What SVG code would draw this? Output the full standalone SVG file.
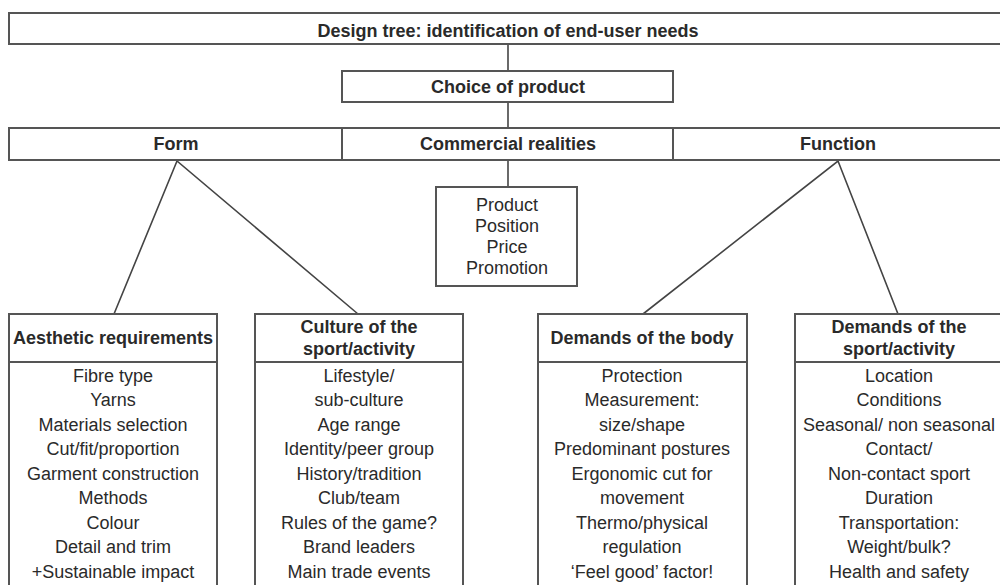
<svg xmlns="http://www.w3.org/2000/svg" width="1000" height="585" viewBox="0 0 1000 585">
<style>
.box{fill:#fff;stroke:#555;stroke-width:2}
.ln{stroke:#444;stroke-width:1.6;fill:none}
text{font-family:"Liberation Sans",Arial,sans-serif;font-size:18px;fill:#2a2a2a;text-anchor:middle;dominant-baseline:central}
.b{font-weight:bold}
</style>
<rect width="1000" height="585" fill="#fff"/>
<g id="connectors">
<line class="ln" x1="508" y1="44" x2="508" y2="71"/>
<line class="ln" x1="508" y1="102" x2="508" y2="128"/>
<line class="ln" x1="508" y1="160" x2="508" y2="187"/>
<polyline class="ln" points="114,314 177,161 358,314"/>
<polyline class="ln" points="643,314 838,161 898,314"/>
</g>
<g id="design-tree">
<rect class="box" x="9" y="13" width="1000" height="31"/>
<text class="b" x="508" y="31">Design tree: identification of end-user needs</text>
</g>
<g id="choice">
<rect class="box" x="342" y="71" width="331" height="31"/>
<text class="b" x="508" y="87">Choice of product</text>
</g>
<g id="form">
<rect class="box" x="9" y="128" width="333" height="32"/>
<text class="b" x="176" y="144">Form</text>
</g>
<g id="commercial">
<rect class="box" x="342" y="128" width="331" height="32"/>
<text class="b" x="508" y="144">Commercial realities</text>
</g>
<g id="function">
<rect class="box" x="673" y="128" width="340" height="32"/>
<text class="b" x="838" y="144">Function</text>
</g>
<g id="four-p">
<rect class="box" x="436" y="187" width="141" height="99"/>
<text x="507" y="205">Product</text>
<text x="507" y="226">Position</text>
<text x="507" y="247">Price</text>
<text x="507" y="268">Promotion</text>
</g>
<g id="aesthetic">
<rect class="box" x="9" y="314" width="208" height="290"/>
<line class="box" x1="9" y1="362" x2="217" y2="362"/>
<text class="b" x="113" y="338">Aesthetic requirements</text>
<text x="113" y="376">Fibre type</text>
<text x="113" y="400">Yarns</text>
<text x="113" y="425">Materials selection</text>
<text x="113" y="449">Cut/fit/proportion</text>
<text x="113" y="474">Garment construction</text>
<text x="113" y="498">Methods</text>
<text x="113" y="523">Colour</text>
<text x="113" y="547">Detail and trim</text>
<text x="113" y="572">+Sustainable impact</text>
</g>
<g id="culture">
<rect class="box" x="255" y="314" width="208" height="290"/>
<line class="box" x1="255" y1="362" x2="463" y2="362"/>
<text class="b" x="359" y="327">Culture of the</text>
<text class="b" x="359" y="349">sport/activity</text>
<text x="359" y="376">Lifestyle/</text>
<text x="359" y="400">sub-culture</text>
<text x="359" y="425">Age range</text>
<text x="359" y="449">Identity/peer group</text>
<text x="359" y="474">History/tradition</text>
<text x="359" y="498">Club/team</text>
<text x="359" y="523">Rules of the game?</text>
<text x="359" y="547">Brand leaders</text>
<text x="359" y="572">Main trade events</text>
</g>
<g id="body">
<rect class="box" x="538" y="314" width="209" height="290"/>
<line class="box" x1="538" y1="362" x2="747" y2="362"/>
<text class="b" x="642" y="338">Demands of the body</text>
<text x="642" y="376">Protection</text>
<text x="642" y="400">Measurement:</text>
<text x="642" y="425">size/shape</text>
<text x="642" y="449">Predominant postures</text>
<text x="642" y="474">Ergonomic cut for</text>
<text x="642" y="498">movement</text>
<text x="642" y="523">Thermo/physical</text>
<text x="642" y="547">regulation</text>
<text x="642" y="572">‘Feel good’ factor!</text>
</g>
<g id="sport">
<rect class="box" x="795" y="314" width="209" height="290"/>
<line class="box" x1="795" y1="362" x2="1004" y2="362"/>
<text class="b" x="899" y="327">Demands of the</text>
<text class="b" x="899" y="349">sport/activity</text>
<text x="899" y="376">Location</text>
<text x="899" y="400">Conditions</text>
<text x="899" y="425">Seasonal/ non seasonal</text>
<text x="899" y="449">Contact/</text>
<text x="899" y="474">Non-contact sport</text>
<text x="899" y="498">Duration</text>
<text x="899" y="523">Transportation:</text>
<text x="899" y="547">Weight/bulk?</text>
<text x="899" y="572">Health and safety</text>
</g>
</svg>
